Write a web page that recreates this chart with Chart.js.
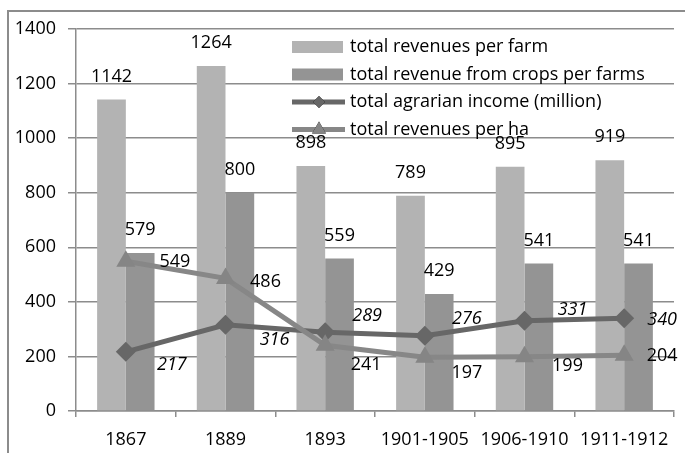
<!DOCTYPE html>
<html>
<head>
<meta charset="utf-8">
<script src="https://cdn.jsdelivr.net/npm/chart.js@4/dist/chart.umd.min.js"></script>
<style>
    html, body { margin: 0; padding: 0; background: #fff; overflow: hidden; }
    .caption {
        position: absolute; left: 10px; top: -20px; width: 680px; line-height: 20px;
        font-family: 'Liberation Serif', serif; font-size: 17px; color: #000; white-space: nowrap;
    }
    .frame {
        position: absolute; left: 7px; top: 10px; width: 700px; height: 460px;
        border-left: 2px solid #8c8c8c; border-top: 2px solid #8c8c8c;
    }
    #wrap { position: absolute; left: 0; top: 0; width: 685px; height: 453px; }
</style>
</head>
<body>
<div class="caption">Figure 4. Changes in agrarian income and agrarian output per farm (in rubles per farm and per ha)</div>
<div class="frame"></div>
<div id="wrap"><canvas id="incomeChart"></canvas></div>
<script>
const categories = ['1867', '1889', '1893', '1901-1905', '1906-1910', '1911-1912'];
const revenuesPerFarm = [1142, 1264, 898, 789, 895, 919];
const cropRevenuePerFarm = [579, 800, 559, 429, 541, 541];
const agrarianIncome = [217, 316, 289, 276, 331, 340];
const revenuesPerHa = [549, 486, 241, 197, 199, 204];
const yTicks = [0, 200, 400, 600, 800, 1000, 1200, 1400];

const FONT = "'Open Sans', sans-serif";

// label nudges, roughly where Excel left them
const lineLabelOffsets = {
    2: [[46, 13], [49, 15], [42, -16], [42, -17], [48, -11], [38, 2]],
    3: [[49, 1], [40, 3], [41, 20], [42, 16], [43, 9], [38, 1]],
};

const valueLabels = {
    id: 'valueLabels',
    afterDatasetsDraw(chart) {
        const ctx = chart.ctx;
        ctx.save();
        ctx.fillStyle = '#000';
        ctx.textAlign = 'center';
        ctx.textBaseline = 'middle';
        chart.data.datasets.forEach((ds, i) => {
            const meta = chart.getDatasetMeta(i);
            meta.data.forEach((el, j) => {
                const v = ds.data[j];
                if (ds.type === 'bar') {
                    ctx.font = '18px ' + FONT;
                    ctx.fillText(v, el.x, el.y - 23);
                } else {
                    const off = lineLabelOffsets[i][j];
                    ctx.font = (ds.italicLabels ? 'italic ' : '') + '18px ' + FONT;
                    ctx.fillText(v, el.x + off[0], el.y + off[1]);
                }
            });
        });
        ctx.restore();
    },
};

const insideLegend = {
    id: 'insideLegend',
    afterDraw(chart) {
        const ctx = chart.ctx;
        const area = chart.chartArea;
        const x0 = area.left + 216;
        const y0 = area.top + 18;
        const rowH = 27.5;
        ctx.save();
        chart.data.datasets.forEach((ds, i) => {
            const y = y0 + i * rowH;
            if (ds.type === 'bar') {
                ctx.fillStyle = ds.backgroundColor;
                ctx.fillRect(x0, y - 6, 51, 12);
            } else {
                ctx.strokeStyle = ds.borderColor;
                ctx.lineWidth = 5;
                ctx.beginPath();
                ctx.moveTo(x0, y);
                ctx.lineTo(x0 + 53, y);
                ctx.stroke();
                Chart.helpers.drawPoint(ctx, {
                    pointStyle: ds.pointStyle,
                    radius: ds.pointStyle === 'triangle' ? 8 : 6,
                    borderWidth: 0,
                }, x0 + 27, y);
                ctx.fillStyle = ds.pointBackgroundColor;
                ctx.fill();
            }
            ctx.fillStyle = '#000';
            ctx.font = '18px ' + FONT;
            ctx.textAlign = 'left';
            ctx.textBaseline = 'middle';
            ctx.fillText(ds.label, x0 + 58, y);
        });
        ctx.restore();
    },
};

new Chart(document.getElementById('incomeChart'), {
    type: 'bar',
    data: {
        labels: categories,
        datasets: [
            {
                type: 'bar',
                label: 'total revenues per farm',
                data: revenuesPerFarm,
                backgroundColor: '#b3b3b3',
                categoryPercentage: 0.576,
                barPercentage: 1,
                order: 2,
            },
            {
                type: 'bar',
                label: 'total revenue from crops per farms',
                data: cropRevenuePerFarm,
                backgroundColor: '#949494',
                categoryPercentage: 0.576,
                barPercentage: 1,
                order: 2,
            },
            {
                type: 'line',
                label: 'total agrarian income (million)',
                data: agrarianIncome,
                borderColor: '#676767',
                borderWidth: 5,
                pointStyle: 'rectRot',
                pointRadius: 10,
                pointBorderWidth: 0,
                pointBackgroundColor: '#676767',
                italicLabels: true,
                order: 1,
            },
            {
                type: 'line',
                label: 'total revenues per ha',
                data: revenuesPerHa,
                borderColor: '#878787',
                borderWidth: 5,
                pointStyle: 'triangle',
                pointRadius: 11,
                pointBorderWidth: 0,
                pointBackgroundColor: '#858585',
                order: 0,
            },
        ],
    },
    options: {
        responsive: true,
        maintainAspectRatio: false,
        animation: false,
        layout: { padding: { top: 29, right: 5, left: 0, bottom: 0 } },
        plugins: { legend: { display: false }, tooltip: { enabled: false } },
        scales: {
            x: {
                grid: { drawOnChartArea: false, drawTicks: true, tickLength: 6, color: '#8c8c8c', lineWidth: 1.5 },
                border: { color: '#8c8c8c', width: 1.5 },
                ticks: { color: '#000', font: { family: FONT, size: 18 }, padding: 12, maxRotation: 0, autoSkip: false },
                afterFit(scale) { scale.height = 42; },
            },
            y: {
                min: 0,
                max: 1400,
                afterBuildTicks(scale) { scale.ticks = yTicks.map(v => ({ value: v })); },
                grid: { color: '#8c8c8c', lineWidth: 1.5, drawTicks: true, tickLength: 8 },
                border: { color: '#8c8c8c', width: 1.5 },
                ticks: { color: '#000', font: { family: FONT, size: 18 }, padding: 12, callback: v => String(v) },
                afterFit(scale) { scale.width = 76; },
            },
        },
    },
    plugins: [valueLabels, insideLegend],
});
</script>
</body>
</html>
